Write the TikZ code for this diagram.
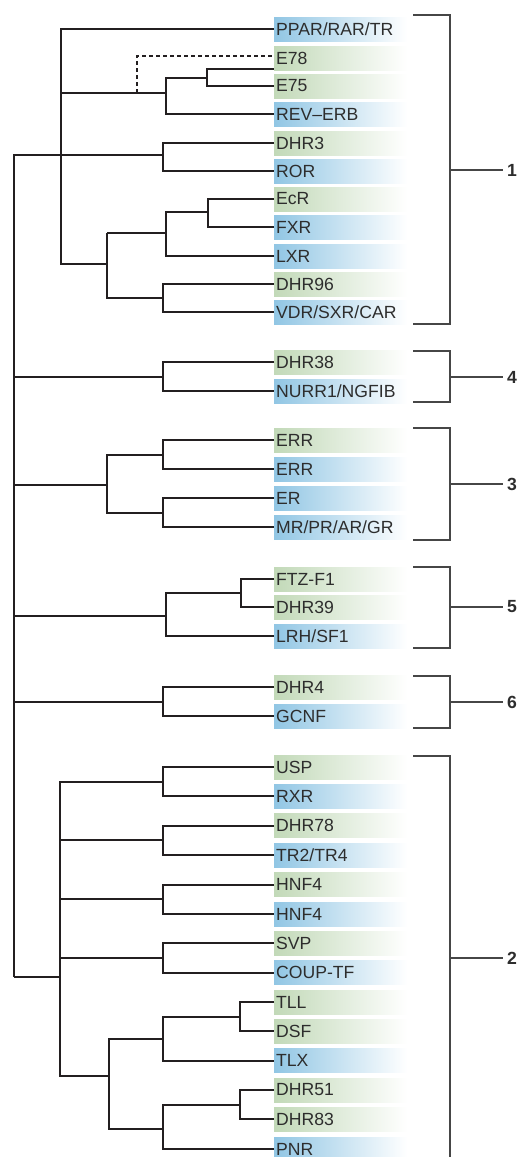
\documentclass[tikz,border=0pt]{standalone}
\usepackage{fontspec}
\setmainfont{Liberation Sans}
\definecolor{cblue}{RGB}{145,198,228}
\definecolor{cgreen}{RGB}{194,217,184}
\definecolor{txt}{RGB}{45,45,45}
\definecolor{tree}{RGB}{35,31,32}
\definecolor{brk}{RGB}{70,70,70}
\tikzset{
  lab/.style={anchor=west, minimum height=24pt, text width=129pt, inner xsep=2pt, inner ysep=0pt, align=left, text=txt, font=\fontsize{17.6}{17.6}\selectfont},
  bl/.style={lab, left color=cblue, right color=white},
  gr/.style={lab, left color=cgreen, right color=white},
  br/.style={line width=1.2pt, draw=brk},
  tr/.style={line width=2pt, draw=tree},
  gnum/.style={anchor=center, font=\fontsize{17.6}{17.6}\selectfont\bfseries, text=txt, inner sep=0pt},
}
\begin{document}
\begin{tikzpicture}[x=1pt, y=-1pt]
\useasboundingbox (0,0) rectangle (520,1157);
% leaves
\node[bl] (ppar) at (274,29) {PPAR/RAR/TR};
\node[gr] (e78) at (274,58) {E78};
\node[gr] (e75) at (274,86) {E75};
\node[bl] (rev) at (274,114) {REV--ERB};
\node[gr] (dhr3) at (274,143) {DHR3};
\node[bl] (ror) at (274,171) {ROR};
\node[gr] (ecr) at (274,199) {EcR};
\node[bl] (fxr) at (274,227) {FXR};
\node[bl] (lxr) at (274,256) {LXR};
\node[gr] (dhr96) at (274,284) {DHR96};
\node[bl] (vdr) at (274,312) {VDR/SXR/CAR};
\node[gr] (dhr38) at (274,362) {DHR38};
\node[bl] (nurr) at (274,391) {NURR1/NGFIB};
\node[gr] (erra) at (274,440) {ERR};
\node[bl] (errb) at (274,469) {ERR};
\node[bl] (er) at (274,498) {ER};
\node[bl] (mr) at (274,527) {MR/PR/AR/GR};
\node[gr] (ftz) at (274,579) {FTZ-F1};
\node[gr] (dhr39) at (274,607) {DHR39};
\node[bl] (lrh) at (274,636) {LRH/SF1};
\node[gr] (dhr4) at (274,687) {DHR4};
\node[bl] (gcnf) at (274,716) {GCNF};
\node[gr] (usp) at (274,767) {USP};
\node[bl] (rxr) at (274,796) {RXR};
\node[gr] (dhr78) at (274,825.5) {DHR78};
\node[bl] (tr2) at (274,855) {TR2/TR4};
\node[gr] (hnfa) at (274,884.5) {HNF4};
\node[bl] (hnfb) at (274,914) {HNF4};
\node[gr] (svp) at (274,943) {SVP};
\node[bl] (coup) at (274,972.5) {COUP-TF};
\node[gr] (tll) at (274,1002) {TLL};
\node[gr] (dsf) at (274,1031) {DSF};
\node[bl] (tlx) at (274,1060.5) {TLX};
\node[gr] (dhr51) at (274,1090) {DHR51};
\node[gr] (dhr83) at (274,1119) {DHR83};
\node[bl] (pnr) at (274,1149) {PNR};

% group 1
\draw[tr] (ppar.west) -| (61,264) -- (107,264);
\draw[tr] (61,93) -- (166,93);
\draw[tr] (rev.west) -| (166,78) -- (207,78);
\draw[tr] (e75.west) -| (207,69) -- (e78.west |- 0,69);
\draw[tr, dash pattern=on 4pt off 3pt, line width=1.6pt] (137,93) -- (137,56) -- (e78.west |- 0,56);
\draw[tr] (14,977) -- (14,155) -- (163,155);
\draw[tr] (dhr3.west) -| (163,171) -- (ror.west);
\draw[tr] (107,233) -- (107,298) -- (163,298);
\draw[tr] (107,233) -- (166,233);
\draw[tr] (lxr.west) -| (166,212) -- (208,212);
\draw[tr] (ecr.west) -| (208,227) -- (fxr.west);
\draw[tr] (dhr96.west) -| (163,312) -- (vdr.west);
% group 4
\draw[tr] (14,377) -- (163,377);
\draw[tr] (dhr38.west) -| (163,391) -- (nurr.west);
% group 3
\draw[tr] (14,485) -- (107,485);
\draw[tr] (163,455) -- (107,455) -- (107,513) -- (163,513);
\draw[tr] (erra.west) -| (163,469) -- (errb.west);
\draw[tr] (er.west) -| (163,527) -- (mr.west);
% group 5
\draw[tr] (14,616) -- (166,616);
\draw[tr] (lrh.west) -| (166,593) -- (241,593);
\draw[tr] (ftz.west) -| (241,607) -- (dhr39.west);
% group 6
\draw[tr] (14,702) -- (163,702);
\draw[tr] (dhr4.west) -| (163,716) -- (gcnf.west);
% group 2
\draw[tr] (14,977) -- (60,977);
\draw[tr] (163,782) -- (60,782) -- (60,1076) -- (109,1076);
\draw[tr] (60,840) -- (163,840);
\draw[tr] (60,899) -- (163,899);
\draw[tr] (60,958) -- (163,958);
\draw[tr] (usp.west) -| (163,796) -- (rxr.west);
\draw[tr] (dhr78.west) -| (163,855) -- (tr2.west);
\draw[tr] (hnfa.west) -| (163,914) -- (hnfb.west);
\draw[tr] (svp.west) -| (163,972.5) -- (coup.west);
\draw[tr] (163,1039) -- (109,1039) -- (109,1129) -- (163,1129);
\draw[tr] (tlx.west) -| (163,1017) -- (240,1017);
\draw[tr] (tll.west) -| (240,1031) -- (dsf.west);
\draw[tr] (pnr.west) -| (163,1105) -- (240,1105);
\draw[tr] (dhr51.west) -| (240,1119) -- (dhr83.west);

% brackets and group numbers
\node[gnum] (n1) at (512,170) {1};
\node[gnum] (n4) at (512,377) {4};
\node[gnum] (n3) at (512,484) {3};
\node[gnum] (n5) at (512,607) {5};
\node[gnum] (n6) at (512,702) {6};
\node[gnum] (n2) at (512,958) {2};
\draw[br] (413,15) -- (450,15) -- (450,324) -- (413,324);
\draw[br] (450,170) -- ([xshift=-4pt]n1.west);
\draw[br] (413,351) -- (450,351) -- (450,402) -- (413,402);
\draw[br] (450,377) -- ([xshift=-4pt]n4.west);
\draw[br] (413,428) -- (450,428) -- (450,540) -- (413,540);
\draw[br] (450,484) -- ([xshift=-4pt]n3.west);
\draw[br] (413,567) -- (450,567) -- (450,648) -- (413,648);
\draw[br] (450,607) -- ([xshift=-4pt]n5.west);
\draw[br] (413,676) -- (450,676) -- (450,728) -- (413,728);
\draw[br] (450,702) -- ([xshift=-4pt]n6.west);
\draw[br] (413,756) -- (450,756) -- (450,1160);
\draw[br] (450,958) -- ([xshift=-4pt]n2.west);
\end{tikzpicture}
\end{document}
